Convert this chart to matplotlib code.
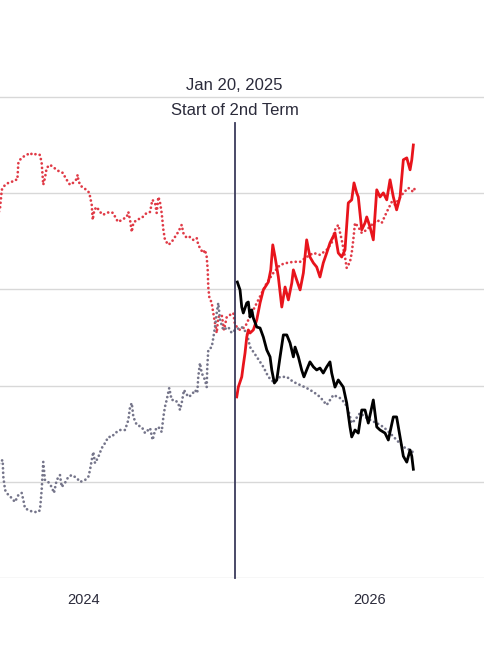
import matplotlib
matplotlib.use("Agg")
import matplotlib.pyplot as plt
import numpy as np
import pandas as pd

# ---- data (x in decimal years, y in percent) ----
red_dot_t = [2023.399, 2023.413, 2023.425, 2023.448, 2023.471, 2023.494, 2023.517, 2023.534, 2023.541, 2023.552,
             2023.573, 2023.599, 2023.622, 2023.643, 2023.669, 2023.692, 2023.704, 2023.711, 2023.715, 2023.727,
             2023.739, 2023.762, 2023.783, 2023.809, 2023.832, 2023.853, 2023.867, 2023.879, 2023.902, 2023.923,
             2023.944, 2023.956, 2023.960, 2023.972, 2023.993, 2024.019, 2024.037, 2024.047, 2024.054, 2024.061,
             2024.072, 2024.089, 2024.112, 2024.133, 2024.159, 2024.182, 2024.203, 2024.229, 2024.240, 2024.264,
             2024.299, 2024.310, 2024.322, 2024.334, 2024.345, 2024.369, 2024.404, 2024.438, 2024.462, 2024.478,
             2024.497, 2024.508, 2024.520, 2024.531, 2024.543, 2024.555, 2024.566, 2024.590, 2024.613, 2024.636,
             2024.659, 2024.683, 2024.694, 2024.718, 2024.741, 2024.764, 2024.788, 2024.799, 2024.818, 2024.834,
             2024.846, 2024.858, 2024.865, 2024.869, 2024.876, 2024.893, 2024.904, 2024.916, 2024.928, 2024.939,
             2024.963, 2024.979, 2024.998, 2025.021, 2025.044, 2025.056, 2025.091, 2025.126, 2025.149, 2025.184,
             2025.208, 2025.243, 2025.278, 2025.324, 2025.371, 2025.418, 2025.464, 2025.511, 2025.557, 2025.604,
             2025.650, 2025.697, 2025.732, 2025.755, 2025.778, 2025.802, 2025.825, 2025.837, 2025.860, 2025.872,
             2025.883, 2025.895, 2025.918, 2025.942, 2025.977, 2026.012, 2026.047, 2026.082, 2026.117, 2026.152,
             2026.175, 2026.198, 2026.233, 2026.268, 2026.303, 2026.314]
red_dot_v = [53.87, 54.23, 55.17, 55.43, 55.53, 55.58, 55.69, 55.69, 56.57, 56.73,
             56.88, 56.98, 57.09, 56.98, 57.04, 56.98, 56.57, 55.84, 55.43, 55.79,
             56.31, 56.47, 56.36, 56.21, 56.10, 56.05, 55.84, 55.69, 55.43, 55.53,
             55.69, 55.95, 55.69, 55.43, 55.27, 55.17, 55.01, 54.65, 54.39, 53.61,
             54.13, 54.28, 54.02, 53.87, 53.97, 54.02, 53.97, 53.61, 53.50, 53.61,
             53.76, 54.02, 53.61, 52.98, 53.45, 53.61, 53.71, 53.97, 54.02, 54.65,
             54.49, 53.97, 54.80, 54.54, 53.97, 53.09, 52.57, 52.31, 52.46, 52.72,
             52.98, 53.35, 52.93, 52.67, 52.72, 52.57, 52.67, 52.31, 52.05, 51.89,
             52.05, 51.68, 51.01, 50.12, 49.60, 49.29, 48.77, 48.25, 47.73, 48.56,
             48.67, 47.89, 48.56, 48.67, 48.77, 48.15, 47.89, 48.04, 48.41, 48.93,
             49.29, 49.81, 50.33, 50.85, 51.27, 51.37, 51.43, 51.43, 51.68, 51.89,
             51.79, 52.05, 52.41, 53.09, 53.35, 52.57, 51.68, 51.11, 51.43, 51.89,
             52.57, 53.45, 53.24, 52.93, 53.09, 53.35, 53.61, 53.45, 54.02, 54.54,
             54.39, 54.65, 55.01, 55.27, 55.06, 55.27]

gray_dot_t = [2023.399, 2023.413, 2023.431, 2023.436, 2023.448, 2023.471, 2023.494, 2023.517, 2023.541, 2023.564,
              2023.576, 2023.587, 2023.611, 2023.645, 2023.680, 2023.692, 2023.704, 2023.715, 2023.727, 2023.750,
              2023.774, 2023.790, 2023.809, 2023.832, 2023.844, 2023.867, 2023.890, 2023.914, 2023.949, 2023.972,
              2024.007, 2024.030, 2024.042, 2024.054, 2024.065, 2024.077, 2024.100, 2024.124, 2024.147, 2024.170,
              2024.194, 2024.217, 2024.252, 2024.287, 2024.310, 2024.322, 2024.334, 2024.345, 2024.369, 2024.404,
              2024.427, 2024.462, 2024.480, 2024.497, 2024.520, 2024.543, 2024.555, 2024.566, 2024.578, 2024.596,
              2024.613, 2024.636, 2024.659, 2024.671, 2024.683, 2024.699, 2024.729, 2024.753, 2024.776, 2024.792,
              2024.799, 2024.811, 2024.823, 2024.846, 2024.858, 2024.862, 2024.869, 2024.893, 2024.904, 2024.916,
              2024.928, 2024.939, 2024.951, 2024.974, 2025.009, 2025.033, 2025.056, 2025.103, 2025.138, 2025.161,
              2025.208, 2025.254, 2025.289, 2025.324, 2025.371, 2025.418, 2025.464, 2025.511, 2025.557, 2025.604,
              2025.650, 2025.697, 2025.744, 2025.790, 2025.825, 2025.848, 2025.872, 2025.895, 2025.930, 2025.965,
              2026.000, 2026.047, 2026.093, 2026.140, 2026.186, 2026.233, 2026.280, 2026.298]
gray_dot_v = [40.87, 41.03, 41.13, 40.25, 39.57, 39.31, 39.16, 38.95, 39.31, 39.42,
              39.05, 38.63, 38.53, 38.43, 38.43, 38.53, 39.57, 41.03, 40.09, 39.99,
              39.73, 39.42, 40.09, 40.35, 39.73, 39.94, 40.25, 40.35, 40.20, 39.99,
              40.09, 40.25, 40.61, 41.13, 41.55, 40.97, 41.29, 41.75, 42.01, 42.33,
              42.33, 42.53, 42.69, 42.69, 43.21, 43.89, 44.09, 43.37, 42.95, 42.85,
              42.53, 42.79, 42.17, 42.69, 42.85, 42.59, 43.37, 43.89, 44.25, 44.87,
              44.25, 44.25, 44.09, 43.73, 44.09, 44.77, 44.41, 44.51, 44.77, 44.61,
              45.45, 46.17, 45.65, 45.29, 44.92, 45.97, 46.85, 47.00, 47.47, 48.04,
              48.77, 49.29, 48.41, 47.89, 48.04, 47.73, 47.89, 48.04, 47.73, 47.00,
              46.49, 45.97, 45.45, 45.19, 45.45, 45.45, 45.19, 45.03, 44.87, 44.67,
              44.41, 43.99, 44.51, 44.35, 44.09, 43.73, 43.05, 43.21, 43.57, 43.37,
              43.21, 43.05, 42.85, 42.53, 42.17, 41.81, 41.65, 41.55]

red_solid_t = [2025.068, 2025.079, 2025.103, 2025.114, 2025.126, 2025.138, 2025.149, 2025.161, 2025.184, 2025.208,
               2025.231, 2025.254, 2025.289, 2025.306, 2025.320, 2025.336, 2025.359, 2025.383, 2025.406, 2025.429,
               2025.453, 2025.464, 2025.487, 2025.511, 2025.534, 2025.557, 2025.580, 2025.604, 2025.627, 2025.650,
               2025.673, 2025.697, 2025.720, 2025.755, 2025.778, 2025.802, 2025.825, 2025.848, 2025.872, 2025.888,
               2025.907, 2025.918, 2025.942, 2025.965, 2025.977, 2026.000, 2026.023, 2026.047, 2026.070, 2026.093,
               2026.117, 2026.140, 2026.163, 2026.186, 2026.210, 2026.233, 2026.257, 2026.280, 2026.292, 2026.303]
red_solid_v = [44.41, 44.92, 45.45, 46.07, 46.69, 47.52, 47.89, 47.73, 47.89, 48.41,
               49.29, 49.97, 50.38, 51.01, 52.31, 51.68, 50.64, 49.08, 50.12, 49.45,
               50.33, 51.01, 50.49, 49.97, 50.85, 52.57, 51.68, 51.37, 51.16, 50.64,
               51.37, 51.89, 52.41, 52.93, 51.89, 51.68, 52.05, 54.49, 54.65, 55.53,
               55.01, 54.80, 53.09, 53.45, 53.76, 53.24, 52.57, 55.17, 54.80, 55.01,
               54.65, 55.69, 54.80, 54.13, 54.80, 56.73, 56.83, 56.21, 56.73, 57.50]

black_solid_t = [2025.072, 2025.091, 2025.103, 2025.114, 2025.138, 2025.149, 2025.161, 2025.173, 2025.184, 2025.208,
                 2025.231, 2025.254, 2025.278, 2025.301, 2025.313, 2025.331, 2025.348, 2025.371, 2025.394, 2025.418,
                 2025.441, 2025.464, 2025.476, 2025.499, 2025.522, 2025.538, 2025.557, 2025.580, 2025.604, 2025.627,
                 2025.650, 2025.673, 2025.697, 2025.720, 2025.732, 2025.755, 2025.778, 2025.813, 2025.837, 2025.860,
                 2025.872, 2025.895, 2025.918, 2025.942, 2025.965, 2025.988, 2026.023, 2026.047, 2026.070, 2026.105,
                 2026.128, 2026.163, 2026.186, 2026.210, 2026.233, 2026.257, 2026.280, 2026.292, 2026.303]
black_solid_v = [50.38, 49.97, 49.08, 48.77, 49.29, 49.34, 48.56, 48.93, 48.51, 48.04,
                 47.99, 47.52, 46.85, 46.49, 45.81, 45.13, 45.29, 46.49, 47.63, 47.63,
                 47.21, 46.49, 47.00, 46.49, 45.81, 45.45, 45.81, 46.23, 45.97, 45.81,
                 45.91, 45.65, 45.97, 46.23, 45.65, 44.92, 45.29, 44.92, 44.09, 42.85,
                 42.33, 42.69, 42.53, 43.73, 43.73, 43.05, 44.25, 42.85, 42.69, 42.53,
                 42.17, 43.37, 43.37, 42.33, 41.33, 41.02, 41.65, 41.33, 40.65]

tick_years = [2024, 2026]
tick_labels = ["2024", "2026"]
event_date = "2025-01-20"
event_label_top = "Jan 20, 2025"
event_label_bottom = "Start of 2nd Term"
grid_values = [35, 40, 45, 50, 55, 60]

BASE = pd.Timestamp("2024-01-01")


def to_dates(years):
    years = np.asarray(years, dtype=float)
    return BASE + pd.to_timedelta((years - 2024.0) * 365.5, unit="D")


plt.rcParams["font.family"] = ["Liberation Sans", "DejaVu Sans"]

fig = plt.figure(figsize=(4.85, 6.67), dpi=100)
ax = fig.add_axes([0.0, 89 / 667, 1.0, 510 / 667])

grid_color = "#d8d8d8"
for g in grid_values:
    ax.axhline(g, color=grid_color, lw=1.0, zorder=0)

dot_style = (0, (0.01, 1.6))
ax.plot(to_dates(red_dot_t), red_dot_v, color="#e03a46", lw=2.0,
        linestyle=dot_style, dash_capstyle="round", zorder=2)
ax.plot(to_dates(gray_dot_t), gray_dot_v, color="#75758a", lw=2.0,
        linestyle=dot_style, dash_capstyle="round", zorder=2)
ax.plot(to_dates(red_solid_t), red_solid_v, color="#e8141c", lw=2.0, zorder=3,
        solid_joinstyle="round")
ax.plot(to_dates(black_solid_t), black_solid_v, color="#000000", lw=2.0, zorder=3,
        solid_joinstyle="round")

ev = pd.Timestamp(event_date)
ax.plot([ev, ev], [35, 58.65], color="#3b3b5c", lw=1.3, zorder=4, clip_on=False)
ax.text(ev, 60.6, event_label_top, ha="center", va="center", fontsize=12,
        color="#2b2b3b")
ax.text(ev, 59.27, event_label_bottom, ha="center", va="center", fontsize=12,
        color="#2b2b3b")

ax.set_xlim(to_dates([2023.4126])[0], to_dates([2026.804])[0])
ax.set_ylim(35, 61.5)
ax.set_xticks([pd.Timestamp(f"{y}-01-01") for y in tick_years])
ax.set_xticklabels(tick_labels)
ax.tick_params(axis="x", length=0, pad=11, labelsize=10.5, labelcolor="#2b2b3b")
ax.set_yticks([])
for s in ax.spines.values():
    s.set_visible(False)
ax.set_facecolor("white")

fig.savefig("out.png", dpi=100)
